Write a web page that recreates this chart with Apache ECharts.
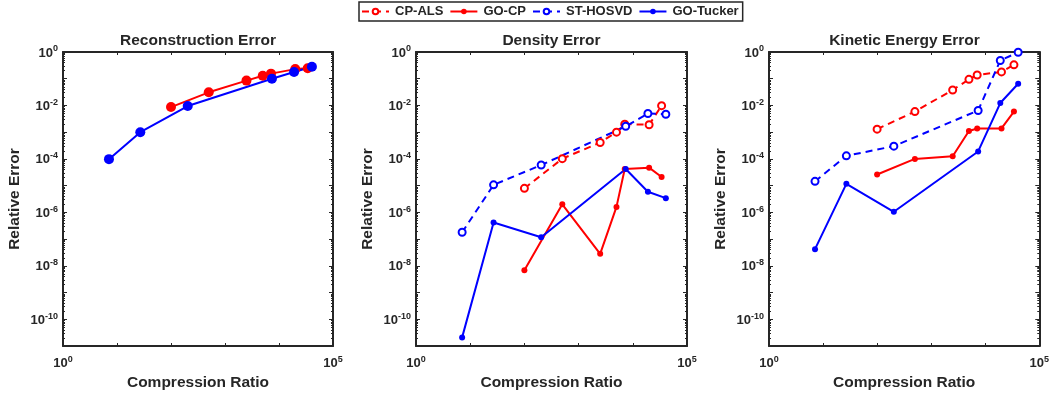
<!DOCTYPE html>
<html><head><meta charset="utf-8">
<script src="https://cdn.jsdelivr.net/npm/echarts@6/dist/echarts.min.js"></script>
<style>html,body{margin:0;padding:0;background:#fff}#c{width:1052px;height:396px}</style>
</head><body><div id="c"></div>
<script>
// Compression ratios
const cpRatios = [100, 500, 2500, 5000, 7100, 20000, 34000];
const tuckerRatios = [7.1, 27, 204, 7400, 19000, 40700];

const panelTitles = ['Reconstruction Error', 'Density Error', 'Kinetic Energy Error'];
const seriesNames = ['CP-ALS', 'GO-CP', 'ST-HOSVD', 'GO-Tucker'];

// Reconstruction error
const recGoCp = [8.7e-3, 0.031, 0.085, 0.129, 0.155, 0.229, 0.245];
const recGoTucker = [9.8e-5, 1.0e-3, 9.5e-3, 0.10, 0.178, 0.282];

// Density error
const denCpAls = [7.9e-6, 1.02e-4, 4.1e-4, 1.0e-3, 2.0e-3, 1.9e-3, 9.8e-3];
const denGoCp = [6.8e-9, 2.0e-6, 2.8e-8, 1.6e-6, 4.2e-5, 4.7e-5, 2.1e-5];
const denStHosvd = [1.8e-7, 1.07e-5, 5.9e-5, 1.66e-3, 5.0e-3, 4.7e-3];
const denGoTucker = [2.1e-11, 4.2e-7, 1.17e-7, 4.2e-5, 5.9e-6, 3.4e-6];

// Kinetic energy error
const keCpAls = [1.3e-3, 5.9e-3, 0.038, 0.095, 0.138, 0.18, 0.33];
const keGoCp = [2.6e-5, 1.0e-4, 1.26e-4, 1.1e-3, 1.38e-3, 1.38e-3, 5.9e-3];
const keStHosvd = [1.45e-5, 1.3e-4, 3.0e-4, 6.5e-3, 0.48, 0.98];
const keGoTucker = [4.2e-8, 1.17e-5, 1.05e-6, 1.9e-4, 0.0123, 0.065];

const INK = '#262626';
const RED = '#ff0000';
const BLUE = '#0000ff';
const FONT = 'Liberation Sans, Arial, sans-serif';

const grids = [
  {left: 63, top: 52, width: 270, height: 298},
  {left: 416, top: 52, width: 271, height: 298},
  {left: 769, top: 52, width: 271, height: 298}
];

function pairs(xs, ys) { return xs.map((x, i) => [x, ys[i]]); }

function supLabel(v) {
  const e = Math.round(Math.log10(v));
  return '{b|10}{s|' + e + '}';
}
const rich = {
  b: {fontSize: 13, fontWeight: 'bold', color: INK, fontFamily: FONT, verticalAlign: 'bottom', lineHeight: 15},
  s: {fontSize: 9, fontWeight: 'bold', color: INK, fontFamily: FONT, verticalAlign: 'top', lineHeight: 11}
};

const xAxes = [], yAxes = [];
grids.forEach((g, i) => {
  xAxes.push({
    type: 'log', logBase: 10, gridIndex: i, min: 1, max: 1e5, interval: 1,
    position: 'bottom',
    name: 'Compression Ratio', nameLocation: 'middle', nameGap: 29,
    nameTextStyle: {fontSize: 15.5, fontWeight: 'bold', color: INK, fontFamily: FONT},
    axisLine: {show: true, lineStyle: {color: INK, width: 2}},
    axisTick: {show: true, inside: true, length: 3, lineStyle: {color: INK, width: 1}},
    splitLine: {show: false},
    axisLabel: {
      margin: 9, rich: rich,
      formatter: function (v) { const e = Math.round(Math.log10(v)); return (e === 0 || e === 5) ? supLabel(v) : ''; }
    }
  });
  yAxes.push({
    type: 'log', logBase: 10, gridIndex: i, min: 1e-11, max: 1, interval: 1,
    position: 'left',
    name: 'Relative Error', nameLocation: 'middle', nameGap: 40,
    nameTextStyle: {fontSize: 15.5, fontWeight: 'bold', color: INK, fontFamily: FONT},
    axisLine: {show: true, lineStyle: {color: INK, width: 2}},
    axisTick: {show: true, inside: true, length: 4, lineStyle: {color: INK, width: 1}},
    minorTick: {show: true, splitNumber: 9, length: 2, lineStyle: {color: INK, width: 1}},
    splitLine: {show: false},
    axisLabel: {
      margin: 5, rich: rich,
      formatter: function (v) { const e = Math.round(Math.log10(v)); return (e % 2 === 0) ? supLabel(v) : ''; }
    }
  });
});
grids.forEach((g, i) => {
  xAxes.push({
    type: 'log', logBase: 10, gridIndex: i, min: 1, max: 1e5, interval: 1, position: 'top',
    axisLine: {show: true, lineStyle: {color: INK, width: 2}},
    axisTick: {show: true, inside: true, length: 3, lineStyle: {color: INK, width: 1}},
    axisLabel: {show: false}, splitLine: {show: false}
  });
  yAxes.push({
    type: 'log', logBase: 10, gridIndex: i, min: 1e-11, max: 1, interval: 1, position: 'right',
    axisLine: {show: true, lineStyle: {color: INK, width: 2}},
    axisTick: {show: true, inside: true, length: 4, lineStyle: {color: INK, width: 1}},
    minorTick: {show: true, splitNumber: 9, length: 2, lineStyle: {color: INK, width: 1}},
    axisLabel: {show: false}, splitLine: {show: false}
  });
});

function mk(name, gi, xs, ys, big) {
  const dashed = (name === 'CP-ALS' || name === 'ST-HOSVD');
  const color = (name === 'CP-ALS' || name === 'GO-CP') ? RED : BLUE;
  return {
    name: name, type: 'line', xAxisIndex: gi, yAxisIndex: gi,
    data: pairs(xs, ys),
    symbol: dashed ? 'emptyCircle' : 'circle',
    symbolSize: dashed ? 7 : (big ? 10 : 6),
    showSymbol: true,
    itemStyle: {color: color, borderColor: color, borderWidth: dashed ? 1.6 : 0},
    lineStyle: {color: color, width: 2, type: dashed ? [7, 5] : 'solid'},
    z: dashed ? 2 : 3,
    animation: false
  };
}

const series = [
  mk('GO-CP', 0, cpRatios, recGoCp, true),
  mk('GO-Tucker', 0, tuckerRatios, recGoTucker, true),
  mk('CP-ALS', 1, cpRatios, denCpAls),
  mk('GO-CP', 1, cpRatios, denGoCp),
  mk('ST-HOSVD', 1, tuckerRatios, denStHosvd),
  mk('GO-Tucker', 1, tuckerRatios, denGoTucker),
  mk('CP-ALS', 2, cpRatios, keCpAls),
  mk('GO-CP', 2, cpRatios, keGoCp),
  mk('ST-HOSVD', 2, tuckerRatios, keStHosvd),
  mk('GO-Tucker', 2, tuckerRatios, keGoTucker)
];

const titles = grids.map((g, i) => ({
  text: panelTitles[i], left: g.left + g.width / 2, top: 33, textAlign: 'center', padding: 0,
  textStyle: {fontSize: 15.5, fontWeight: 'bold', color: INK, fontFamily: FONT}
}));

const chart = echarts.init(document.getElementById('c'), null, {renderer: 'canvas'});
chart.setOption({
  animation: false,
  backgroundColor: '#fff',
  title: titles,
  grid: grids,
  xAxis: xAxes,
  yAxis: yAxes,
  legend: {
    data: seriesNames, top: 2, left: 359,
    borderColor: INK, borderWidth: 1.5, borderRadius: 0,
    padding: [3, 4, 3, 2], itemGap: 6, itemWidth: 27, itemHeight: 7,
    textStyle: {fontSize: 13, fontWeight: 'bold', color: INK, fontFamily: FONT, padding: [0, 0, 0, 1]},
    selectedMode: false
  },
  series: series
});
</script></body></html>
